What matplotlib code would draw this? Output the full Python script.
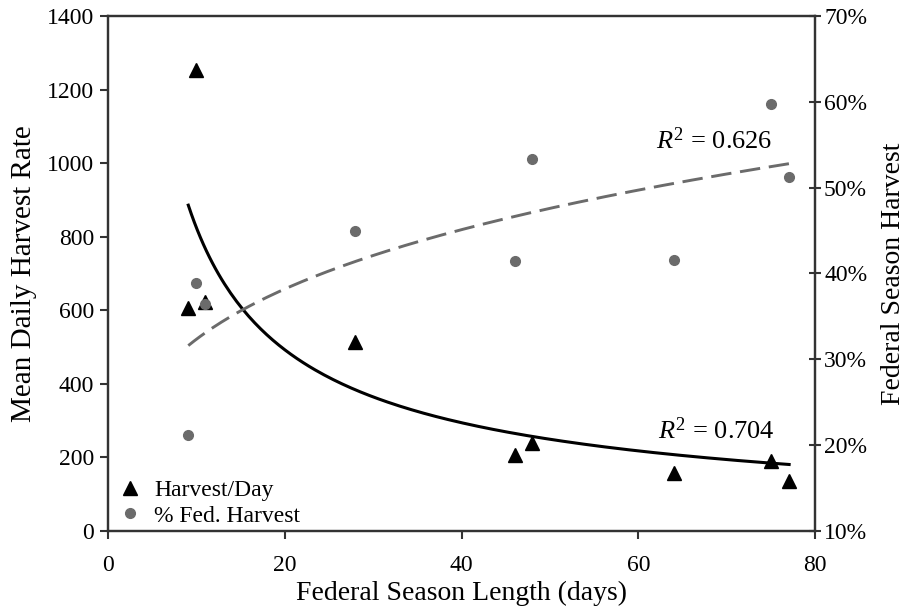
import numpy as np
import matplotlib
matplotlib.use("Agg")
from matplotlib import pyplot as plt
from matplotlib.ticker import FuncFormatter

plt.rcParams['font.family'] = ['Liberation Serif', 'DejaVu Serif']
plt.rcParams['mathtext.fontset'] = 'custom'
plt.rcParams['mathtext.rm'] = 'Liberation Serif'
plt.rcParams['mathtext.it'] = 'Liberation Serif:italic'

# Federal season length (days) and the two observed series
season_days = [9, 10, 11, 28, 46, 48, 64, 75, 77]
harvest_per_day = [606, 1253, 623, 514, 206, 240, 158, 190, 137]
fed_harvest_pct = [21.2, 38.9, 36.4, 44.9, 41.4, 53.3, 41.6, 59.7, 51.2]

# Power trendlines y = a * x^b, as drawn in the source figure
harvest_fit = (4562.0, -0.743)
fed_fit = (18.61, 0.240)
fit_range = (9.08, 77.07)
r2_harvest = 0.704
r2_fed = 0.626

fig = plt.figure(figsize=(9.08, 6.15), dpi=100)
ax = fig.add_axes([0.119, 0.1366, 0.7786, 0.8374])
ax2 = ax.twinx()

xf = np.linspace(fit_range[0], fit_range[1], 200)
ax.plot(xf, harvest_fit[0] * xf ** harvest_fit[1], color="black", lw=2.2)
ax2.plot(xf, fed_fit[0] * xf ** fed_fit[1], color="#6b6b6b", lw=2.1, ls=(0, (7, 3)))

tri, = ax.plot(season_days, harvest_per_day, ls="none", marker="^", ms=10,
               color="black", label="Harvest/Day")
circ, = ax2.plot(season_days, fed_harvest_pct, ls="none", marker="o", ms=7,
                 color="#6b6b6b", label="% Fed. Harvest")

ax.set_xlim(0, 80)
ax.set_ylim(0, 1400)
ax2.set_ylim(10, 70)
ax.set_xticks([0, 20, 40, 60, 80])
ax.set_yticks(range(0, 1401, 200))
ax2.set_yticks(range(10, 71, 10))
ax2.yaxis.set_major_formatter(FuncFormatter(lambda v, p: "%d%%" % v))

for a in (ax, ax2):
    for s in a.spines.values():
        s.set_color("#333333")
        s.set_linewidth(1.6)
ax.tick_params(axis="both", direction="out", length=6, width=1.5, color="#333333",
               labelsize=17, pad=4)
ax.tick_params(axis="x", pad=11)
ax2.tick_params(axis="y", direction="inout", length=9, width=1.5, color="#333333",
                labelsize=17, pad=2)

ax.set_xlabel("Federal Season Length (days)", fontsize=20, labelpad=4)
ax.set_ylabel("Mean Daily Harvest Rate", fontsize=21, labelpad=7)
ax2.set_ylabel("Federal Season Harvest", fontsize=20, labelpad=10)

ax.text(75.2, 1062, r"$R^2$ = %.3f" % r2_fed, ha="right", va="center", fontsize=19)
ax.text(75.4, 274, r"$R^2$ = %.3f" % r2_harvest, ha="right", va="center", fontsize=19)

ax2.legend(handles=[tri, circ], loc="lower left", bbox_to_anchor=(0.0, -0.012),
           frameon=False, fontsize=17, handletextpad=0.5, borderaxespad=0.05,
           labelspacing=0.15, handlelength=1.0)

fig.savefig("out.png", dpi=100)
